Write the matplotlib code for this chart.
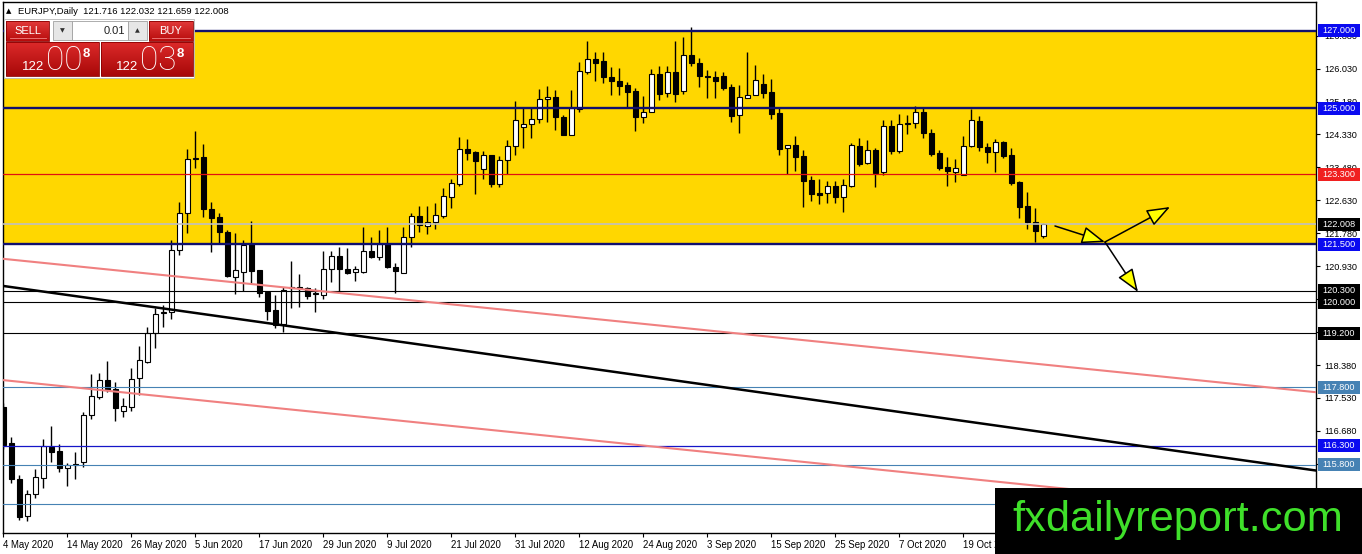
import numpy as np
import pandas as pd
import matplotlib
matplotlib.use("Agg")
import matplotlib.pyplot as plt
from matplotlib import transforms, font_manager
from matplotlib.patches import Rectangle

plt.rcParams["font.family"] = ["Liberation Sans", "DejaVu Sans"]

# EURJPY daily candles, 4 May 2020 .. 2 Nov 2020
opens = [117.30, 116.36, 115.44, 114.48, 115.04, 115.46, 116.27, 116.15, 115.71, 115.82,
         115.89, 117.09, 117.56, 117.99, 117.75, 117.19, 117.29, 118.04, 118.47, 119.20,
         119.71, 119.74, 121.35, 122.30, 123.69, 123.76, 122.40, 122.19, 121.81, 120.66,
         120.79, 121.50, 120.83, 120.27, 119.80, 119.44, 120.37, 120.38, 120.36, 120.22,
         120.18, 120.87, 121.19, 120.87, 120.79, 120.79, 121.33, 121.16, 121.50, 120.92,
         120.76, 121.68, 122.23, 121.98, 122.06, 122.23, 122.72, 123.05, 123.95, 123.88,
         123.43, 123.80, 123.05, 123.67, 124.03, 124.51, 124.59, 124.73, 125.24, 125.30,
         124.77, 124.32, 124.98, 125.93, 126.27, 126.23, 125.81, 125.72, 125.61, 125.45,
         124.77, 124.90, 125.88, 125.39, 125.93, 125.46, 126.38, 126.18, 125.84, 125.82,
         125.84, 125.56, 124.82, 125.28, 125.34, 125.63, 125.43, 124.89, 123.97, 124.06,
         123.77, 123.15, 122.83, 122.83, 123.00, 122.72, 123.01, 124.03, 123.59, 123.93,
         123.37, 124.56, 123.89, 124.59, 124.63, 124.90, 124.36, 123.84, 123.48, 123.37,
         123.28, 124.04, 124.68, 124.01, 123.87, 124.13, 123.80, 123.11, 122.48, 122.08,
         121.716]
highs = [117.40, 116.53, 115.54, 115.15, 115.69, 116.46, 116.81, 116.34, 115.86, 116.14,
         117.18, 118.14, 118.17, 118.48, 117.93, 117.52, 118.30, 118.87, 119.37, 119.84,
         119.93, 121.61, 122.59, 123.95, 124.42, 124.08, 122.59, 122.31, 121.86, 121.78,
         121.61, 122.10, 120.83, 120.27, 120.19, 120.40, 121.06, 120.73, 120.40, 120.36,
         121.32, 121.32, 121.43, 121.39, 120.94, 121.95, 121.68, 121.86, 121.95, 121.02,
         121.95, 122.31, 122.48, 122.48, 122.55, 122.94, 123.17, 124.26, 124.21, 123.91,
         123.89, 123.80, 123.77, 124.19, 125.20, 125.02, 125.00, 125.50, 125.58, 125.47,
         124.83, 125.48, 126.21, 126.74, 126.45, 126.45, 126.06, 126.04, 125.69, 125.54,
         125.32, 126.01, 126.10, 126.10, 126.75, 126.84, 127.10, 126.29, 125.99, 125.97,
         125.95, 125.63, 125.61, 126.47, 126.12, 125.89, 125.75, 125.00, 124.06, 124.29,
         123.93, 123.27, 123.18, 123.13, 123.13, 123.17, 124.10, 124.23, 124.19, 123.97,
         124.70, 124.70, 124.85, 124.83, 125.06, 125.02, 124.46, 123.93, 123.74, 123.69,
         124.30, 124.99, 124.81, 124.10, 124.21, 124.17, 123.99, 123.13, 122.84, 122.42,
         122.032]
lows = [116.20, 115.33, 114.38, 114.36, 114.94, 115.20, 115.89, 115.63, 115.27, 115.43,
        115.74, 116.98, 117.50, 117.68, 116.94, 117.03, 117.20, 117.61, 118.42, 118.81,
        119.37, 119.57, 121.22, 121.78, 123.46, 122.19, 121.29, 121.50, 120.66, 120.21,
        120.30, 120.49, 120.13, 119.54, 119.33, 119.24, 119.86, 119.89, 120.08, 119.76,
        120.08, 120.53, 120.23, 120.72, 120.56, 120.75, 121.13, 121.09, 120.88, 120.23,
        120.76, 121.43, 121.80, 121.76, 121.88, 122.17, 122.44, 123.00, 123.67, 122.79,
        123.18, 122.98, 122.98, 123.31, 123.80, 123.97, 124.23, 124.62, 124.66, 124.45,
        124.32, 124.32, 124.92, 125.89, 125.71, 125.65, 125.35, 125.35, 125.03, 124.41,
        124.63, 124.90, 125.22, 125.29, 125.18, 125.37, 126.10, 125.55, 125.26, 125.28,
        125.48, 124.66, 124.38, 125.28, 125.34, 125.26, 124.72, 123.80, 123.31, 123.39,
        122.47, 122.62, 122.54, 122.55, 122.57, 122.34, 122.98, 123.52, 123.57, 122.98,
        123.28, 123.82, 123.84, 124.33, 124.49, 124.25, 123.78, 123.41, 123.01, 123.10,
        123.28, 124.01, 123.90, 123.60, 123.37, 123.73, 123.03, 122.17, 121.89, 121.56,
        121.659]
closes = [116.32, 115.43, 114.47, 115.04, 115.50, 116.29, 116.14, 115.71, 115.79, 115.79,
          117.09, 117.58, 117.99, 117.74, 117.26, 117.32, 118.03, 118.51, 119.20, 119.70,
          119.74, 121.35, 122.30, 123.69, 123.71, 122.40, 122.18, 121.81, 120.69, 120.82,
          121.48, 120.81, 120.25, 119.78, 119.41, 120.32, 120.39, 120.37, 120.17, 120.24,
          120.87, 121.19, 120.87, 120.76, 120.85, 121.33, 121.16, 121.50, 120.92, 120.81,
          121.68, 122.23, 121.99, 122.06, 122.25, 122.74, 123.07, 123.95, 123.86, 123.65,
          123.80, 123.05, 123.67, 124.03, 124.70, 124.59, 124.73, 125.24, 125.30, 124.79,
          124.32, 125.01, 125.97, 126.27, 126.18, 125.81, 125.72, 125.59, 125.43, 124.77,
          124.90, 125.88, 125.37, 125.93, 125.37, 126.38, 126.17, 125.84, 125.80, 125.72,
          125.54, 124.81, 125.29, 125.35, 125.74, 125.41, 124.86, 123.96, 124.06, 123.76,
          123.14, 122.79, 122.78, 123.00, 122.72, 123.03, 124.05, 123.57, 123.93, 123.34,
          124.56, 123.89, 124.59, 124.63, 124.90, 124.36, 123.82, 123.47, 123.39, 123.46,
          124.04, 124.70, 124.00, 123.87, 124.13, 123.78, 123.07, 122.47, 122.06, 121.84,
          122.008]

dates = pd.bdate_range("2020-05-04", periods=len(opens))

# scale ticks that are not hidden by the watermark
price_ticks = [126.880, 126.030, 125.180, 124.330, 123.480, 122.630, 121.780, 120.930,
               120.080, 119.230, 118.380, 117.530, 116.680, 115.830]

# horizontal levels
level_prices = [127.000, 125.000, 123.300, 122.008, 121.500, 120.300, 120.000, 119.200,
                117.800, 116.300, 115.800, 114.800]
level_colors = ["#10106e", "#10106e", "#e01010", "#c0c0c0", "#10106e", "black", "black",
                "black", "#4682b4", "#1515c8", "#4682b4", "#4682b4"]
level_widths = [1.7, 1.7, 0.9, 1.2, 1.7, 0.8, 0.8, 0.8, 0.8, 0.9, 0.8, 0.8]
label_colors = ["#0a0af0", "#0a0af0", "#f02020", "black", "#0a0af0", "black", "black",
                "black", "#4682b4", "#0a0af0", "#4682b4", None]

# trend lines (bar index, price)
trend_x = [0, 164]
trend_black = [120.42, 115.66]
trend_pink_up = [121.12, 117.68]
trend_pink_low = [117.99, 114.53]

# scenario arrows
arr_x0 = [131.46, 137.71, 137.71]
arr_y0 = [121.968, 121.555, 121.555]
arr_x1 = [137.71, 145.84, 141.84]
arr_y1 = [121.555, 122.458, 120.265]

W, H = 1362, 554
fig = plt.figure(figsize=(W / 100, H / 100), dpi=100)
fig.patch.set_facecolor("white")
ax = fig.add_axes([3 / W, 1 - 533 / H, (1316 - 3) / W, (533 - 2) / H])
ax.set_xlim(-0.04, 164.09)
ax.set_ylim(114.045, 127.748)
px = (127.748 - 114.045) / 531  # price units per pixel

ax.axhspan(121.5, 127.0, color="#ffd700", zorder=0, lw=0)

x = np.arange(len(opens))
o, h, l, c = map(np.array, (opens, highs, lows, closes))
bull = c >= o
ax.vlines(x, l, h, color="black", lw=1.0, zorder=3)
ax.bar(x, np.maximum(np.abs(c - o), 0.012), bottom=np.minimum(o, c), width=0.66,
       color=np.where(bull, "white", "black"), edgecolor="black", linewidth=0.8, zorder=4)

for p, col, lw in zip(level_prices, level_colors, level_widths):
    ax.axhline(p, color=col, lw=lw, zorder=5)

ax.plot(trend_x, trend_pink_up, color="#f08080", lw=1.5, zorder=5)
ax.plot(trend_x, trend_pink_low, color="#f08080", lw=1.5, zorder=5)
ax.plot(trend_x, trend_black, color="black", lw=1.8, zorder=5)

for xa, ya, xb, yb in zip(arr_x0, arr_y0, arr_x1, arr_y1):
    ax.annotate("", xy=(xb, yb), xytext=(xa, ya),
                arrowprops=dict(arrowstyle="-|>,head_length=0.8,head_width=0.3",
                                mutation_scale=18, fc="#ffff00", ec="black", lw=1.1,
                                shrinkA=0, shrinkB=0), zorder=6)

# axes styling
for s in ax.spines.values():
    s.set_color("black")
    s.set_linewidth(1.0)
ax.yaxis.tick_right()
ax.set_yticks(price_ticks)
ax.set_yticklabels([f"{p:.3f}" for p in price_ticks])
ax.tick_params(axis="y", direction="out", length=3, width=0.8, pad=3, labelsize=6.6)
xt = x[::8]
ax.set_xticks(xt)
ax.set_xticklabels([f"{d.day} {d:%b %Y}" for d in dates[::8]], ha="left")
ax.tick_params(axis="x", direction="out", length=3, width=0.8, pad=2, labelsize=6.9)

# price tags on the right scale
trans = transforms.blended_transform_factory(ax.transAxes, ax.transData)
for p, col in zip(level_prices, label_colors):
    if col is None:
        continue
    ax.add_patch(Rectangle((1 + 2 / 1313, p - 6.5 * px), 42 / 1313, 13 * px, transform=trans,
                           fc=col, ec="none", clip_on=False, zorder=7))
    ax.text(1 + 6 / 1313, p, f"{p:.3f}", transform=trans, fontsize=6.6, color="white",
            ha="left", va="center", clip_on=False, zorder=8)

# overlay in pixel coordinates: header, trade panel, watermark
ov = fig.add_axes([0, 0, 1, 1], zorder=10)
ov.set_xlim(0, W)
ov.set_ylim(H, 0)
ov.axis("off")
ov.patch.set_visible(False)


def grad_rect(x0, y0, x1, y1, top, bottom):
    t = np.array(matplotlib.colors.to_rgb(top))
    b = np.array(matplotlib.colors.to_rgb(bottom))
    g = np.linspace(0, 1, 40)[:, None, None]
    img = t * (1 - g) + b * g
    ov.imshow(img, extent=(x0, x1, y1, y0), aspect="auto", interpolation="bilinear", zorder=2)
    ov.add_patch(Rectangle((x0, y0), x1 - x0, y1 - y0, fc="none", ec="#8a0000", lw=0.6, zorder=3))


ov.text(6, 11, "▲", fontsize=5, va="center", ha="left", family=["DejaVu Sans"])
ov.text(18, 11, "EURJPY,Daily  121.716 122.032 121.659 122.008", fontsize=6.8,
        va="center", ha="left", color="black")

ov.add_patch(Rectangle((4, 19), 190, 59, fc="white", ec="#b8b8b8", lw=0.6, zorder=1))
grad_rect(6, 21, 49, 41, "#e23a3a", "#b80c0c")
grad_rect(149, 21, 193, 41, "#e23a3a", "#b80c0c")
grad_rect(6, 42, 99, 76, "#dc2a2a", "#a80808")
grad_rect(101, 42, 193, 76, "#dc2a2a", "#a80808")
ov.add_patch(Rectangle((53, 21), 19, 19, fc="#e6e6e6", ec="#a0a0a0", lw=0.6, zorder=2))
ov.add_patch(Rectangle((128, 21), 19, 19, fc="#e6e6e6", ec="#a0a0a0", lw=0.6, zorder=2))
ov.add_patch(Rectangle((72, 21), 56, 19, fc="white", ec="#a0a0a0", lw=0.6, zorder=2))
ov.plot([10, 46], [38, 38], color="#f08080", lw=0.6, zorder=4)
ov.plot([152, 190], [38, 38], color="#f08080", lw=0.6, zorder=4)
ov.text(27.5, 31, "SELL", fontsize=8, color="white", ha="center", va="center", zorder=5)
ov.text(171, 31, "BUY", fontsize=8, color="white", ha="center", va="center", zorder=5)
ov.text(62.5, 31, "▼", fontsize=4.5, color="#303030", ha="center", va="center",
        family=["DejaVu Sans"], zorder=5)
ov.text(137.5, 31, "▲", fontsize=4.5, color="#303030", ha="center", va="center",
        family=["DejaVu Sans"], zorder=5)
ov.text(125, 31, "0.01", fontsize=8, color="#202020", ha="right", va="center", zorder=5)

big = dict(color="white", va="baseline", ha="left", zorder=5)
for x0, big_digits in [(22, "00"), (116, "03")]:
    ov.text(x0, 70, "122", fontsize=9.5, **big)
    ov.text(x0 + 24, 70, big_digits, fontsize=24, family=["Roboto", "DejaVu Sans"],
            weight="light", **big)
    ov.text(x0 + 61, 57, "8", fontsize=9.5, weight="bold", **big)

# watermark
ov.add_patch(Rectangle((995, 488), W - 995, H - 488, fc="black", ec="none", zorder=6))
names = {f.name for f in font_manager.fontManager.ttflist}
wm_family = "Liberation Sans Narrow" if "Liberation Sans Narrow" in names else "Liberation Sans"
wm = ov.text(1012, 531, "fxdailyreport.com", fontsize=36, color="#3fe02a",
             family=wm_family, ha="left", va="baseline", zorder=7)
fig.canvas.draw()
bb = wm.get_window_extent()
wm.set_fontsize(36 * 331 / bb.width)

fig.savefig("out.png", dpi=100)
